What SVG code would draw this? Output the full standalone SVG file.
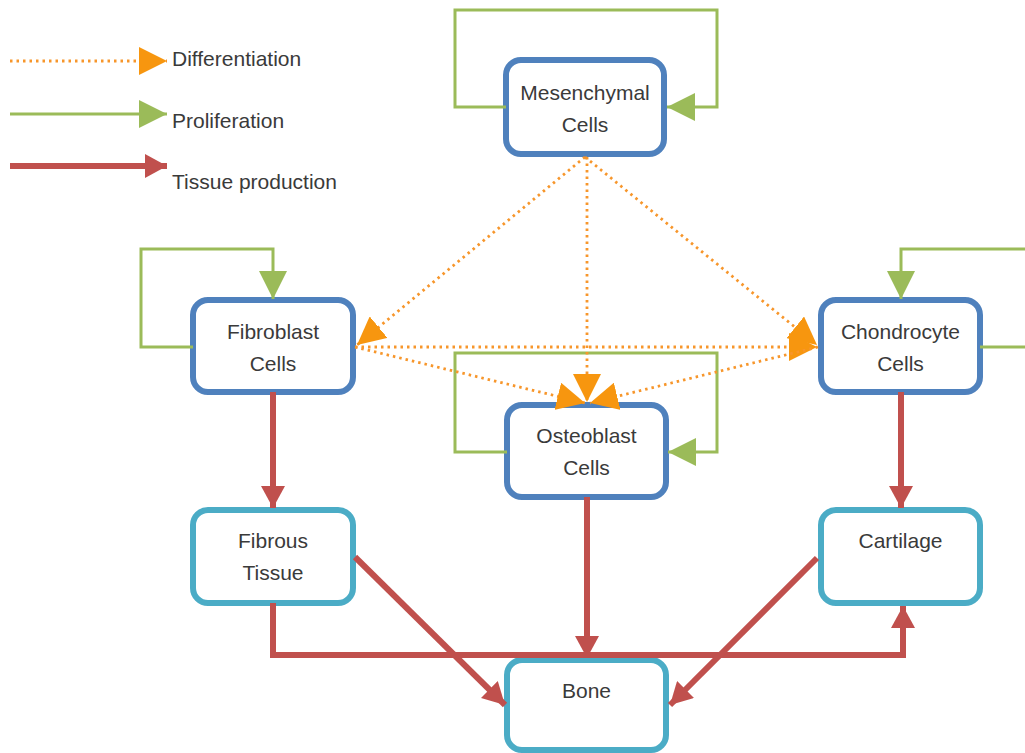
<svg xmlns="http://www.w3.org/2000/svg" width="1025" height="753" viewBox="0 0 1025 753">
<style>
text{font-family:"Liberation Sans",Arial,sans-serif;font-size:21px;fill:#3a3a3a;text-anchor:middle}
.lt{text-anchor:start}
.cell{fill:#fff;stroke:#4F81BD;stroke-width:6}
.tis{fill:#fff;stroke:#4BACC6;stroke-width:6}
.diff{fill:none;stroke:#F7962B;stroke-width:2.8;stroke-dasharray:2.5 4;marker-end:url(#ao)}
.prol{fill:none;stroke:#9BBB59;stroke-width:3;marker-end:url(#ag)}
.tp{fill:none;stroke:#C0504D;stroke-width:6;marker-end:url(#ar)}
</style>
<defs>
<marker id="ao" markerUnits="userSpaceOnUse" markerWidth="28" markerHeight="28" refX="28" refY="14" orient="auto"><path d="M0,0 L28,14 L0,28 z" fill="#F7960F"/></marker>
<marker id="ag" markerUnits="userSpaceOnUse" markerWidth="28" markerHeight="28" refX="28" refY="14" orient="auto"><path d="M0,0 L28,14 L0,28 z" fill="#9BBB59"/></marker>
<marker id="ar" markerUnits="userSpaceOnUse" markerWidth="24" markerHeight="24" refX="22" refY="12" orient="auto"><path d="M0,0 L22,12 L0,24 z" fill="#C0504D"/></marker>
</defs>
<rect width="1025" height="753" fill="#fff"/>
<g id="legend">
<line class="diff" x1="10" y1="61" x2="167" y2="61"/>
<text class="lt" x="172" y="66">Differentiation</text>
<line class="prol" x1="10" y1="114" x2="167" y2="114"/>
<text class="lt" x="172" y="128">Proliferation</text>
<line class="tp" x1="10" y1="166" x2="167" y2="166"/>
<text class="lt" x="172" y="189">Tissue production</text>
</g>
<g id="mesenchymal"><rect class="cell" x="506" y="60" width="158" height="94" rx="15"/><text x="585" y="100">Mesenchymal</text><text x="585" y="132">Cells</text></g>
<g id="fibroblast"><rect class="cell" x="193" y="300" width="160" height="92" rx="15"/><text x="273" y="339">Fibroblast</text><text x="273" y="371">Cells</text></g>
<g id="chondrocyte"><rect class="cell" x="821" y="300" width="159" height="92" rx="15"/><text x="900.5" y="339">Chondrocyte</text><text x="900.5" y="371">Cells</text></g>
<g id="osteoblast"><rect class="cell" x="507" y="405" width="159" height="92" rx="15"/><text x="586.5" y="443">Osteoblast</text><text x="586.5" y="475">Cells</text></g>
<g id="fibrous"><rect class="tis" x="193" y="510" width="160" height="93" rx="15"/><text x="273" y="548">Fibrous</text><text x="273" y="580">Tissue</text></g>
<g id="cartilage"><rect class="tis" x="821" y="510" width="159" height="93" rx="15"/><text x="900.5" y="548">Cartilage</text></g>
<g id="bone"><rect class="tis" x="507" y="660" width="159" height="90" rx="15"/><text x="586.5" y="698">Bone</text></g>
<g id="connectors">
<path class="prol" d="M506,107 H455 V10 H717 V107 H667"/>
<path class="prol" d="M193,347 H141 V249 H273 V299"/>
<path class="prol" d="M980,347 H1030 V249 H901 V299"/>
<path class="prol" d="M507,452 H455 V353 H717 V452 H668"/>
<line class="diff" x1="585" y1="157" x2="357" y2="345"/>
<line class="diff" x1="585" y1="157" x2="817" y2="345"/>
<line class="diff" x1="587" y1="157" x2="587" y2="402"/>
<line class="diff" x1="355" y1="347" x2="817" y2="347"/>
<line class="diff" x1="355" y1="347" x2="585" y2="403"/>
<line class="diff" x1="818" y1="347" x2="590" y2="403"/>
<line class="tp" x1="273" y1="392" x2="273" y2="508"/>
<line class="tp" x1="901" y1="392" x2="901" y2="508"/>
<line class="tp" x1="587" y1="497" x2="587" y2="658"/>
<path class="tp" d="M273,603 V655 H903 V606"/>
<line class="tp" x1="355" y1="557" x2="505" y2="705"/>
<line class="tp" x1="817" y1="558" x2="670" y2="705"/>
</g>
</svg>
